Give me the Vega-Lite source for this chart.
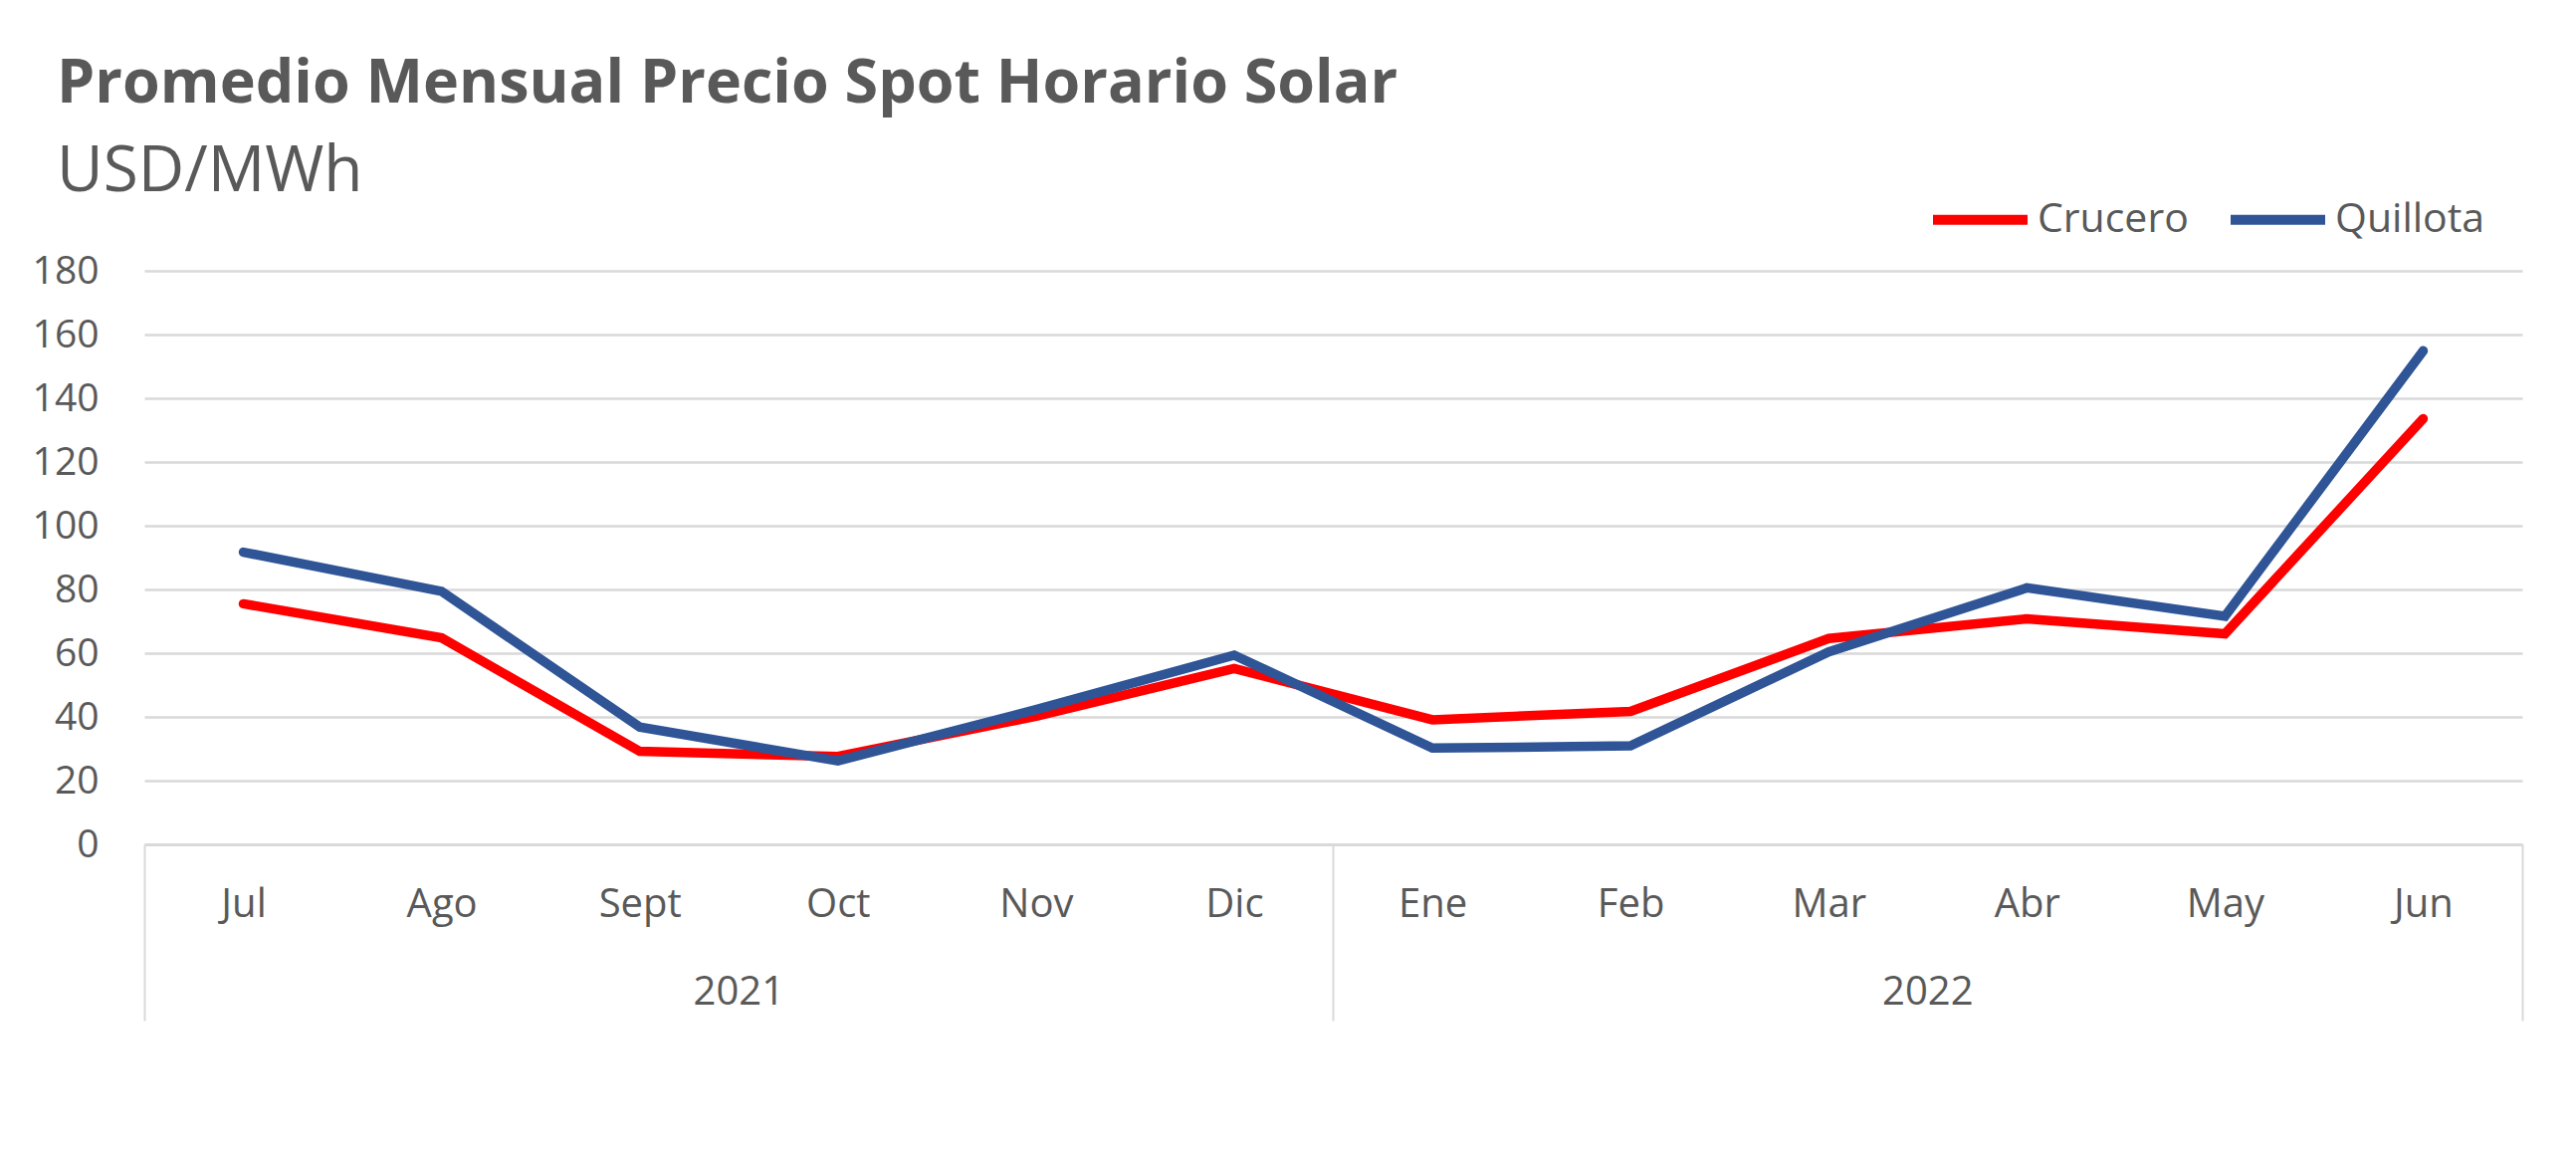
{
  "$schema": "https://vega.github.io/schema/vega-lite/v6.json",
  "width": 2389,
  "height": 576,
  "autosize": {"type": "none"},
  "padding": {"left": 145, "top": 272, "right": 54, "bottom": 315},
  "background": "white",
  "config": {"view": {"stroke": null}, "font": "Open Sans"},
  "title": {
    "text": "Promedio Mensual Precio Spot Horario Solar",
    "subtitle": "USD/MWh",
    "anchor": "start",
    "frame": "group",
    "dx": -88,
    "offset": -38,
    "font": "Open Sans",
    "fontSize": 61,
    "fontWeight": "bold",
    "color": "#595959",
    "subtitleFont": "Open Sans",
    "subtitleFontSize": 64,
    "subtitleColor": "#595959",
    "subtitlePadding": 25
  },
  "data": {
    "values": [
      {"mes": "Jul", "anio": "2021", "serie": "Crucero", "valor": 75.5},
      {"mes": "Ago", "anio": "2021", "serie": "Crucero", "valor": 64.8},
      {"mes": "Sept", "anio": "2021", "serie": "Crucero", "valor": 29.2},
      {"mes": "Oct", "anio": "2021", "serie": "Crucero", "valor": 27.6},
      {"mes": "Nov", "anio": "2021", "serie": "Crucero", "valor": 40.2},
      {"mes": "Dic", "anio": "2021", "serie": "Crucero", "valor": 55.2},
      {"mes": "Ene", "anio": "2022", "serie": "Crucero", "valor": 39.1},
      {"mes": "Feb", "anio": "2022", "serie": "Crucero", "valor": 41.7},
      {"mes": "Mar", "anio": "2022", "serie": "Crucero", "valor": 64.6},
      {"mes": "Abr", "anio": "2022", "serie": "Crucero", "valor": 70.8},
      {"mes": "May", "anio": "2022", "serie": "Crucero", "valor": 66.1},
      {"mes": "Jun", "anio": "2022", "serie": "Crucero", "valor": 133.6},
      {"mes": "Jul", "anio": "2021", "serie": "Quillota", "valor": 91.7},
      {"mes": "Ago", "anio": "2021", "serie": "Quillota", "valor": 79.4},
      {"mes": "Sept", "anio": "2021", "serie": "Quillota", "valor": 36.8},
      {"mes": "Oct", "anio": "2021", "serie": "Quillota", "valor": 26.2},
      {"mes": "Nov", "anio": "2021", "serie": "Quillota", "valor": 42.3},
      {"mes": "Dic", "anio": "2021", "serie": "Quillota", "valor": 59.4},
      {"mes": "Ene", "anio": "2022", "serie": "Quillota", "valor": 30.2},
      {"mes": "Feb", "anio": "2022", "serie": "Quillota", "valor": 30.9},
      {"mes": "Mar", "anio": "2022", "serie": "Quillota", "valor": 60.4},
      {"mes": "Abr", "anio": "2022", "serie": "Quillota", "valor": 80.5},
      {"mes": "May", "anio": "2022", "serie": "Quillota", "valor": 71.6},
      {"mes": "Jun", "anio": "2022", "serie": "Quillota", "valor": 154.9}
    ]
  },
  "layer": [
    {
      "mark": {"type": "line", "strokeWidth": 9.5, "strokeCap": "round", "strokeJoin": "miter"},
      "encoding": {
        "x": {
          "field": "mes",
          "type": "nominal",
          "sort": ["Jul", "Ago", "Sept", "Oct", "Nov", "Dic", "Ene", "Feb", "Mar", "Abr", "May", "Jun"],
          "scale": {"type": "point", "padding": 0.5},
          "axis": {
            "orient": "bottom",
            "title": null,
            "ticks": false,
            "tickSize": 0,
            "grid": false,
            "domain": true,
            "domainColor": "#d9d9d9",
            "domainWidth": 3,
            "labelAngle": 0,
            "labelBaseline": "middle",
            "labelPadding": 60,
            "labelFontSize": 40,
            "labelColor": "#595959",
            "labelFont": "Open Sans"
          }
        },
        "y": {
          "field": "valor",
          "type": "quantitative",
          "scale": {"domain": [0, 180], "nice": false},
          "axis": {
            "title": null,
            "values": [0, 20, 40, 60, 80, 100, 120, 140, 160, 180],
            "domain": false,
            "ticks": false,
            "grid": true,
            "gridColor": "#d9d9d9",
            "gridWidth": 2.5,
            "labelPadding": 46,
            "labelFontSize": 39,
            "labelColor": "#595959",
            "labelFont": "Open Sans"
          }
        },
        "color": {
          "field": "serie",
          "type": "nominal",
          "scale": {"domain": ["Crucero", "Quillota"], "range": ["#FF0000", "#2F5597"]},
          "legend": {
            "orient": "none",
            "legendX": 1792,
            "legendY": -104,
            "direction": "horizontal",
            "title": null,
            "padding": 0,
            "symbolType": "stroke",
            "symbolSize": 9025,
            "symbolStrokeWidth": 10,
            "labelFontSize": 41,
            "labelColor": "#595959",
            "labelFont": "Open Sans",
            "labelOffset": 5,
            "columnPadding": 22
          }
        }
      }
    },
    {
      "mark": {"type": "point", "opacity": 0},
      "encoding": {
        "x": {
          "field": "anio",
          "type": "ordinal",
          "scale": {"type": "band", "paddingInner": 0, "paddingOuter": 0},
          "axis": {
            "orient": "bottom",
            "title": null,
            "ticks": false,
            "tickSize": 0,
            "domain": false,
            "grid": false,
            "labelAngle": 0,
            "labelBaseline": "middle",
            "labelPadding": 148,
            "labelFontSize": 40,
            "labelColor": "#595959",
            "labelFont": "Open Sans"
          }
        }
      }
    },
    {
      "mark": {"type": "point", "opacity": 0},
      "encoding": {
        "x": {
          "field": "anio",
          "type": "ordinal",
          "scale": {"type": "band", "paddingInner": 0, "paddingOuter": 0},
          "axis": {
            "orient": "bottom",
            "title": null,
            "labels": false,
            "ticks": true,
            "tickExtra": true,
            "bandPosition": 1,
            "tickSize": 177,
            "tickColor": "#d9d9d9",
            "tickWidth": 2,
            "domain": false,
            "grid": false
          }
        }
      }
    }
  ],
  "resolve": {"scale": {"x": "independent"}, "axis": {"x": "independent"}}
}
